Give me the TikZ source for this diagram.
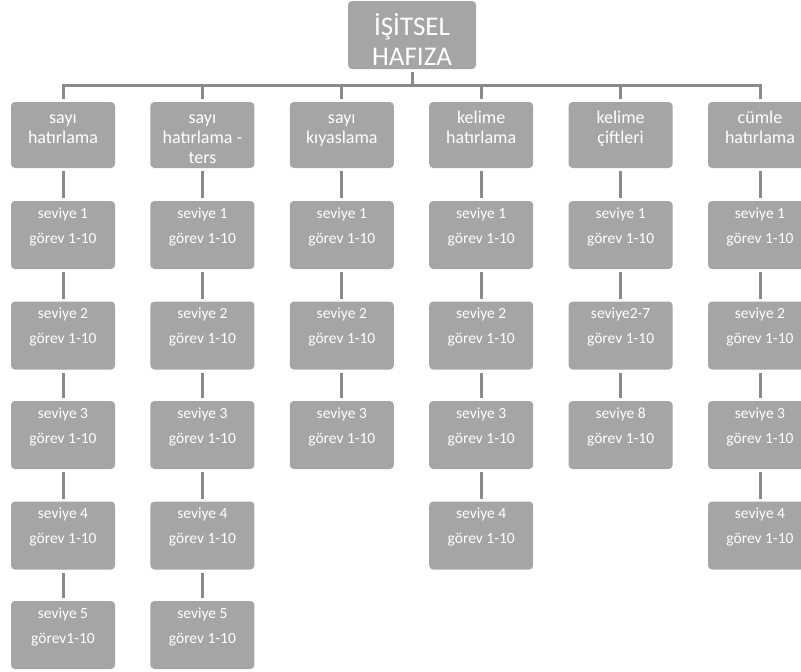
\documentclass[tikz,border=0pt]{standalone}
\usepackage{fontspec}
\setmainfont{Carlito}
\definecolor{boxgray}{HTML}{A5A5A5}
\definecolor{linegray}{HTML}{8A8A8A}
% text blocks, top-aligned inside fixed-height boxes
\newcommand\roottext[1]{\parbox[c][68pt][t]{128pt}{\centering\fontsize{27}{30}\selectfont\rule{0pt}{34pt}#1}}
\newcommand\headtext[1]{\parbox[c][66pt][t]{104pt}{\centering\fontsize{18}{20}\selectfont\rule{0pt}{21pt}#1}}
\newcommand\leveltext[1]{\parbox[c][68pt][t]{104pt}{\centering\fontsize{15.5}{25}\selectfont\rule{0pt}{17pt}#1}}
\tikzset{
  box/.style={rectangle, rounded corners=4pt, fill=boxgray, text=white,
              inner sep=0pt, outer sep=0pt, anchor=north},
  conn/.style={draw=linegray, line width=3pt, shorten <=3pt, shorten >=3pt}
}
\begin{document}
\begin{tikzpicture}[x=1pt,y=-1pt]
\useasboundingbox (0,0) rectangle (801,672);
\clip (0,0) rectangle (801,672);

% root
\node[box] (root) at (412,1) {\roottext{İŞİTSEL\\HAFIZA}};
\coordinate (bar) at (0,85);

% category headers
\node[box] (h1) at (63,102)    {\headtext{sayı\\hatırlama}};
\node[box] (h2) at (202.4,102) {\headtext{sayı\\hatırlama -\\ters}};
\node[box] (h3) at (341.8,102) {\headtext{sayı\\kıyaslama}};
\node[box] (h4) at (481.2,102) {\headtext{kelime\\hatırlama}};
\node[box] (h5) at (620.6,102) {\headtext{kelime\\çiftleri}};
\node[box] (h6) at (760,102)   {\headtext{cümle\\hatırlama}};

\foreach \h in {h1,h2,h3,h4,h5,h6}
  \draw[conn] (root.south) -- (root.south |- bar) -| (\h.north);

% column 1
\node[box] (a1) at (63,201)   {\leveltext{seviye 1\\görev 1-10}};
\node[box] (a2) at (63,301.5) {\leveltext{seviye 2\\görev 1-10}};
\node[box] (a3) at (63,401)   {\leveltext{seviye 3\\görev 1-10}};
\node[box] (a4) at (63,501.5) {\leveltext{seviye 4\\görev 1-10}};
\node[box] (a5) at (63,601)   {\leveltext{seviye 5\\görev1-10}};
\draw[conn] (h1.south) -- (a1.north);
\draw[conn] (a1.south) -- (a2.north);
\draw[conn] (a2.south) -- (a3.north);
\draw[conn] (a3.south) -- (a4.north);
\draw[conn] (a4.south) -- (a5.north);

% column 2
\node[box] (b1) at (202.4,201)   {\leveltext{seviye 1\\görev 1-10}};
\node[box] (b2) at (202.4,301.5) {\leveltext{seviye 2\\görev 1-10}};
\node[box] (b3) at (202.4,401)   {\leveltext{seviye 3\\görev 1-10}};
\node[box] (b4) at (202.4,501.5) {\leveltext{seviye 4\\görev 1-10}};
\node[box] (b5) at (202.4,601)   {\leveltext{seviye 5\\görev 1-10}};
\draw[conn] (h2.south) -- (b1.north);
\draw[conn] (b1.south) -- (b2.north);
\draw[conn] (b2.south) -- (b3.north);
\draw[conn] (b3.south) -- (b4.north);
\draw[conn] (b4.south) -- (b5.north);

% column 3
\node[box] (c1) at (341.8,201)   {\leveltext{seviye 1\\görev 1-10}};
\node[box] (c2) at (341.8,301.5) {\leveltext{seviye 2\\görev 1-10}};
\node[box] (c3) at (341.8,401)   {\leveltext{seviye 3\\görev 1-10}};
\draw[conn] (h3.south) -- (c1.north);
\draw[conn] (c1.south) -- (c2.north);
\draw[conn] (c2.south) -- (c3.north);

% column 4
\node[box] (d1) at (481.2,201)   {\leveltext{seviye 1\\görev 1-10}};
\node[box] (d2) at (481.2,301.5) {\leveltext{seviye 2\\görev 1-10}};
\node[box] (d3) at (481.2,401)   {\leveltext{seviye 3\\görev 1-10}};
\node[box] (d4) at (481.2,501.5) {\leveltext{seviye 4\\görev 1-10}};
\draw[conn] (h4.south) -- (d1.north);
\draw[conn] (d1.south) -- (d2.north);
\draw[conn] (d2.south) -- (d3.north);
\draw[conn] (d3.south) -- (d4.north);

% column 5
\node[box] (e1) at (620.6,201)   {\leveltext{seviye 1\\görev 1-10}};
\node[box] (e2) at (620.6,301.5) {\leveltext{seviye2-7\\görev 1-10}};
\node[box] (e3) at (620.6,401)   {\leveltext{seviye 8\\görev 1-10}};
\draw[conn] (h5.south) -- (e1.north);
\draw[conn] (e1.south) -- (e2.north);
\draw[conn] (e2.south) -- (e3.north);

% column 6
\node[box] (f1) at (760,201)   {\leveltext{seviye 1\\görev 1-10}};
\node[box] (f2) at (760,301.5) {\leveltext{seviye 2\\görev 1-10}};
\node[box] (f3) at (760,401)   {\leveltext{seviye 3\\görev 1-10}};
\node[box] (f4) at (760,501.5) {\leveltext{seviye 4\\görev 1-10}};
\draw[conn] (h6.south) -- (f1.north);
\draw[conn] (f1.south) -- (f2.north);
\draw[conn] (f2.south) -- (f3.north);
\draw[conn] (f3.south) -- (f4.north);
\end{tikzpicture}
\end{document}
